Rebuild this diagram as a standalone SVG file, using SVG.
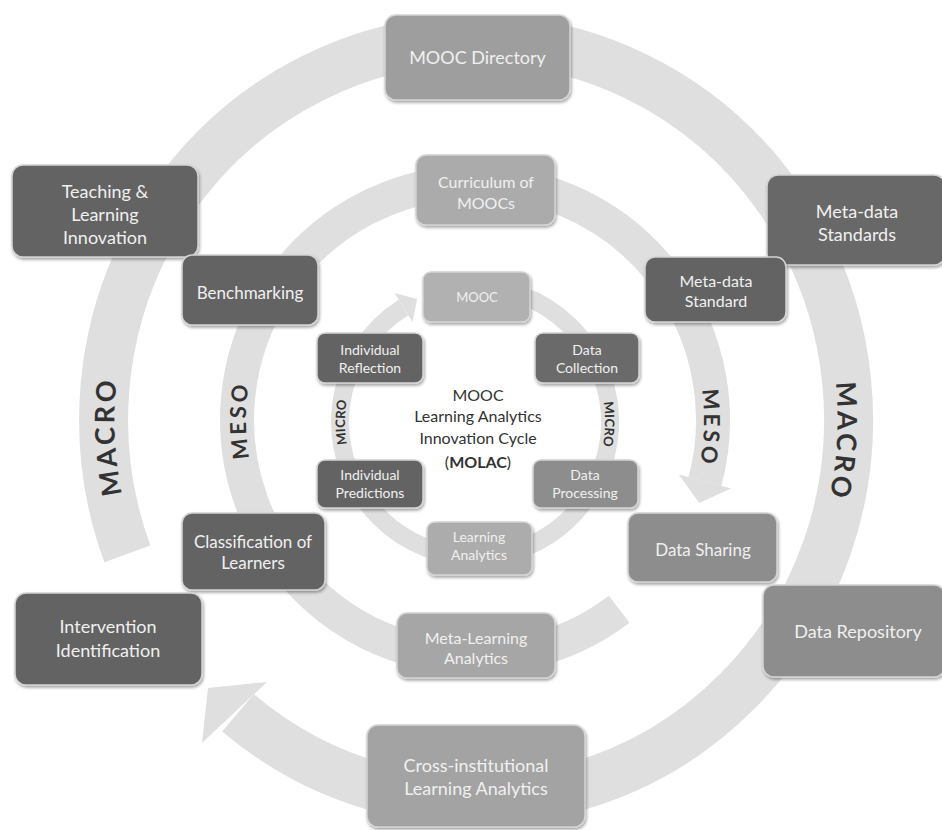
<svg xmlns="http://www.w3.org/2000/svg" width="942" height="830" viewBox="0 0 942 830">
<defs>
<filter id="sh" x="-10%" y="-10%" width="125%" height="135%">
<feDropShadow dx="1" dy="2" stdDeviation="1.5" flood-color="#000" flood-opacity="0.35"/>
</filter>
<path id="tpMacroL" d="M 153.4 610.3 A 372.5 380.5 0 0 1 138.4 259.2"/>
<path id="tpMacroR" d="M 813.6 259.2 A 372.5 380.5 0 0 1 793.3 619.4"/>
<path id="tpMesoL" d="M 259.3 520.6 A 238 238 0 0 1 259.3 319.4"/>
<path id="tpMesoR" d="M 694.1 327.0 A 238 238 0 0 1 687.1 528.1"/>
<path id="tpMicroL" d="M 348.1 468.2 A 135 135 0 0 1 348.1 375.8"/>
<path id="tpMicroR" d="M 601.9 375.8 A 135 135 0 0 1 600.2 472.6"/>
</defs>
<style>
.ring{fill:none;stroke:#dfdfdf;stroke-linecap:butt}
.head{fill:#dfdfdf}
.lvl{font-family:Lato,"Liberation Sans",sans-serif;font-weight:bold;fill:#333;}
.box{stroke:#d4d4d4;stroke-width:1.5;filter:url(#sh)}
.dark{fill:#636363}
.mid{fill:#8d8d8d}
.t{font-family:Lato,"Liberation Sans",sans-serif;fill:#f0f0f0;text-anchor:middle}
.c{font-family:Lato,"Liberation Sans",sans-serif;fill:#333;text-anchor:middle;font-size:16px}
</style>
<rect width="942" height="830" fill="#fff"/>
<g id="connectors">
<path class="ring" stroke-width="49" d="M 127.4 553.9 A 372.5 380.5 0 1 1 238.0 712.7"/>
<polygon class="head" points="267,682 208,688 202,743"/>
<path class="ring" stroke-width="34" d="M 619.2 609.3 A 238 238 0 1 1 704.9 481.6"/>
<polygon class="head" points="678.8,474.6 699.2,502.9 731,488.6"/>
<path class="ring" stroke-width="18" d="M 521.2 295.1 A 135 135 0 1 1 403.5 307.5"/>
<polygon class="head" points="412.5,321.9 417.1,299.0 394.5,293.1"/>
<text class="lvl" font-size="27" letter-spacing="4" dominant-baseline="central"><textPath href="#tpMacroL" startOffset="50%" text-anchor="middle">MACRO</textPath></text>
<text class="lvl" font-size="27" letter-spacing="4" dominant-baseline="central"><textPath href="#tpMacroR" startOffset="50%" text-anchor="middle">MACRO</textPath></text>
<text class="lvl" font-size="22" letter-spacing="4" dominant-baseline="central"><textPath href="#tpMesoL" startOffset="50%" text-anchor="middle">MESO</textPath></text>
<text class="lvl" font-size="22" letter-spacing="4" dominant-baseline="central"><textPath href="#tpMesoR" startOffset="50%" text-anchor="middle">MESO</textPath></text>
<text class="lvl" font-size="13" letter-spacing="0.5" dominant-baseline="central"><textPath href="#tpMicroL" startOffset="50%" text-anchor="middle">MICRO</textPath></text>
<text class="lvl" font-size="13" letter-spacing="0.5" dominant-baseline="central"><textPath href="#tpMicroR" startOffset="50%" text-anchor="middle">MICRO</textPath></text>
</g>
<g id="mooc-directory"><rect class="box" style="fill:#9e9e9e" x="385" y="15" width="185" height="85" rx="11"/><text class="t" font-size="18" x="477.5" y="64">MOOC Directory</text></g>
<g id="teaching-learning-innovation"><rect class="box dark" x="12" y="165" width="186" height="92" rx="11"/><text class="t" font-size="18" x="105"><tspan x="105" y="198">Teaching &amp;</tspan><tspan x="105" y="221">Learning</tspan><tspan x="105" y="244">Innovation</tspan></text></g>
<g id="meta-data-standards"><rect class="box" style="fill:#676767" x="767" y="175" width="178" height="90" rx="11"/><text class="t" font-size="18"><tspan x="857" y="218">Meta-data</tspan><tspan x="857" y="241">Standards</tspan></text></g>
<g id="curriculum-of-moocs"><rect class="box" style="fill:#ababab" x="416" y="155" width="139" height="70" rx="10"/><text class="t" font-size="16"><tspan x="486" y="188">Curriculum of</tspan><tspan x="486" y="209">MOOCs</tspan></text></g>
<g id="benchmarking"><rect class="box dark" x="182" y="255" width="136" height="70" rx="10"/><text class="t" font-size="17" x="250" y="299">Benchmarking</text></g>
<g id="meta-data-standard"><rect class="box dark" x="645" y="257" width="141" height="65" rx="10"/><text class="t" font-size="16"><tspan x="716" y="287">Meta-data</tspan><tspan x="716" y="307">Standard</tspan></text></g>
<g id="mooc"><rect class="box" style="fill:#b1b1b1" x="423" y="272" width="107" height="50" rx="8"/><text class="t" font-size="13" x="477" y="302">MOOC</text></g>
<g id="individual-reflection"><rect class="box dark" x="317" y="333" width="106" height="50" rx="8"/><text class="t" font-size="14"><tspan x="370" y="355">Individual</tspan><tspan x="370" y="373">Reflection</tspan></text></g>
<g id="data-collection"><rect class="box" style="fill:#6b6b6b" x="535" y="333" width="104" height="50" rx="8"/><text class="t" font-size="14"><tspan x="587" y="355">Data</tspan><tspan x="587" y="373">Collection</tspan></text></g>
<g id="individual-predictions"><rect class="box dark" x="317" y="460" width="106" height="48" rx="8"/><text class="t" font-size="14"><tspan x="370" y="480">Individual</tspan><tspan x="370" y="498">Predictions</tspan></text></g>
<g id="data-processing"><rect class="box mid" x="533" y="460" width="105" height="48" rx="8"/><text class="t" font-size="14"><tspan x="585" y="480">Data</tspan><tspan x="585" y="498">Processing</tspan></text></g>
<g id="learning-analytics"><rect class="box" style="fill:#acacac" x="427" y="522" width="105" height="53" rx="8"/><text class="t" font-size="14"><tspan x="479" y="542">Learning</tspan><tspan x="479" y="560">Analytics</tspan></text></g>
<g id="classification-of-learners"><rect class="box dark" x="182" y="513" width="143" height="77" rx="10"/><text class="t" font-size="17"><tspan x="253" y="548">Classification of</tspan><tspan x="253" y="569">Learners</tspan></text></g>
<g id="data-sharing"><rect class="box mid" x="628" y="513" width="149" height="69" rx="10"/><text class="t" font-size="17" x="703" y="556">Data Sharing</text></g>
<g id="intervention-identification"><rect class="box dark" x="15" y="593" width="187" height="92" rx="11"/><text class="t" font-size="18"><tspan x="108" y="633">Intervention</tspan><tspan x="108" y="657">Identification</tspan></text></g>
<g id="meta-learning-analytics"><rect class="box" style="fill:#a6a6a6" x="397" y="613" width="158" height="65" rx="10"/><text class="t" font-size="16"><tspan x="476" y="644">Meta-Learning</tspan><tspan x="476" y="664">Analytics</tspan></text></g>
<g id="data-repository"><rect class="box mid" x="763" y="585" width="182" height="92" rx="11"/><text class="t" font-size="18" x="858" y="638">Data Repository</text></g>
<g id="cross-institutional-learning-analytics"><rect class="box" style="fill:#a3a3a3" x="367" y="725" width="218" height="102" rx="11"/><text class="t" font-size="18"><tspan x="476" y="772">Cross-institutional</tspan><tspan x="476" y="795">Learning Analytics</tspan></text></g>
<g id="center-label"><text class="c"><tspan x="478" y="401">MOOC</tspan><tspan x="478" y="422">Learning Analytics</tspan><tspan x="478" y="444">Innovation Cycle</tspan><tspan x="478" y="468">(<tspan font-weight="bold">MOLAC</tspan>)</tspan></text></g>
</svg>
